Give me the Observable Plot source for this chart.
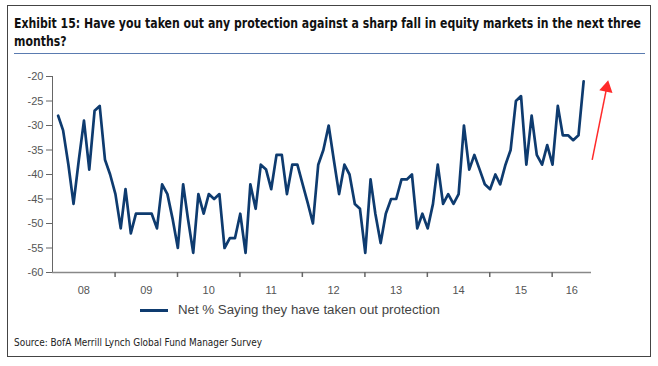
<!DOCTYPE html>
<html>
<head>
<meta charset="utf-8">
<script src="https://cdn.jsdelivr.net/npm/d3@7"></script>
<script src="https://cdn.jsdelivr.net/npm/@observablehq/plot@0.6"></script>
<style>
  html, body { margin: 0; padding: 0; background: #fff; }
  #page { position: relative; width: 658px; height: 366px; overflow: hidden; background: #fff; }
  #frame { position: absolute; left: 7px; top: 5px; width: 644px; height: 352px; border: 1px solid #444; box-sizing: border-box; }
  .fit { position: absolute; white-space: nowrap; transform-origin: 0 0; display: inline-block; }
  .title { font-family: "DejaVu Sans Condensed", "DejaVu Sans", sans-serif; font-weight: bold; font-size: 14px; line-height: 16px; color: #111; }
  #rule { position: absolute; left: 14px; top: 53px; width: 631px; height: 1px; background: #5a7bb0; }
  #chart { position: absolute; left: 0; top: 0; }
  #sw { position: absolute; left: 140px; top: 309px; width: 28px; height: 3px; background: #0e3b6f; }
  #legtext { font-family: "Liberation Sans", Arial, sans-serif; font-size: 12.5px; line-height: 14px; color: #444; }
  #source { font-family: "DejaVu Sans Condensed", "DejaVu Sans", sans-serif; font-size: 10.5px; line-height: 12px; color: #222; }
</style>
</head>
<body>
<div id="page">
  <div id="frame"></div>
  <span id="t1" class="fit title" style="left:14px; top:15px;">Exhibit 15: Have you taken out any protection against a sharp fall in equity markets in the next three</span>
  <span id="t2" class="fit title" style="left:14px; top:33px;">months?</span>
  <div id="rule"></div>
  <div id="chart"></div>
  <div id="sw"></div>
  <span id="legtext" class="fit" style="left:178px; top:303px;">Net % Saying they have taken out protection</span>
  <span id="source" class="fit" style="left:14px; top:336px;">Source: BofA Merrill Lynch Global Fund Manager Survey</span>
</div>
<script>
// Monthly survey, Feb 2008 .. Jul 2016
const startYear = 2008;
const startMonth = 1; // February (0-based)
const netProtection = [
  -28, -31, -38, -46, -37, -29, -39, -27, -26, -37, -40,        // 2008 Feb-Dec
  -44, -51, -43, -52, -48, -48, -48, -48, -51, -42, -44, -49,   // 2009
  -55, -42, -49, -56, -44, -48, -44, -45, -44, -55, -53, -53,   // 2010
  -48, -56, -42, -47, -38, -39, -43, -36, -36, -44, -38, -38,   // 2011
  -42, -46, -50, -38, -35, -30, -37, -44, -38, -40, -46, -47,   // 2012
  -56, -41, -48, -54, -48, -45, -45, -41, -41, -40, -51, -48,   // 2013
  -51, -46, -38, -46, -44, -46, -44, -30, -39, -36, -39, -42,   // 2014
  -43, -40, -42, -38, -35, -25, -24, -38, -28, -36, -38, -34,   // 2015
  -38, -26, -32, -32, -33, -32, -21                             // 2016 Jan-Jul
];
const yTicks = [-20, -25, -30, -35, -40, -45, -50, -55, -60];
const yearTickYears = [2009, 2010, 2011, 2012, 2013, 2014, 2015, 2016];
const yearLabels = ["08", "09", "10", "11", "12", "13", "14", "15", "16"];
// red annotation arrow (tail -> tip), in chart units
const arrowDates = ["2016-08-22", "2016-11-21"];
const arrowValues = [-37, -21.2];

const data = netProtection.map((v, i) => ({
  date: new Date(Date.UTC(startYear, startMonth + i, 3)),
  value: v
}));

const xDomain = [new Date(Date.UTC(2008, 0, 1)), new Date(Date.UTC(2016, 7, 18))];
const yearTicks = yearTickYears.map(y => new Date(Date.UTC(y, 0, 1)));
const bounds = [xDomain[0], ...yearTicks, xDomain[1]];
const labelData = yearLabels.map((t, i) => ({
  date: new Date((+bounds[i] + +bounds[i + 1]) / 2),
  label: t
}));

const a0 = {x: new Date(arrowDates[0]), y: arrowValues[0]};
const a1 = {x: new Date(arrowDates[1]), y: arrowValues[1]};
const lerp = (t) => ({x: new Date(+a0.x + (+a1.x - +a0.x) * t), y: a0.y + (a1.y - a0.y) * t});
const shaftEnd = lerp(0.9);
const headCenter = lerp(0.93);

const chart = Plot.plot({
  width: 658,
  height: 366,
  marginTop: 76,
  marginBottom: 94,
  marginLeft: 52,
  marginRight: 67,
  style: {background: "transparent", fontFamily: "'Liberation Sans', Arial, sans-serif"},
  x: {type: "utc", domain: xDomain, axis: null},
  y: {type: "linear", domain: [-60, -20], axis: null},
  marks: [
    Plot.axisY({ticks: yTicks, tickFormat: d => String(d), tickSize: 6, tickPadding: 3, fontSize: 11, color: "#555", stroke: "#666", label: null}),
    Plot.ruleX([xDomain[0]], {y1: -60, y2: -20, stroke: "#666"}),
    Plot.ruleY([-60], {x1: xDomain[0], x2: xDomain[1], stroke: "#888", strokeWidth: 1.5}),
    Plot.axisX({ticks: yearTicks, tickFormat: () => "", tickSize: 5, stroke: "#666", strokeWidth: 1.5, label: null}),
    Plot.text(labelData, {x: "date", y: -60, text: "label", dy: 18, fontSize: 11, fill: "#555"}),
    Plot.line(data, {x: "date", y: "value", stroke: "#0e3b6f", strokeWidth: 2.7, strokeLinejoin: "round"}),
    Plot.link([0], {x1: a0.x, y1: a0.y, x2: shaftEnd.x, y2: shaftEnd.y, stroke: "#ff2a2a", strokeWidth: 1.5}),
    Plot.dot([headCenter], {x: "x", y: "y", symbol: "triangle", r: 5, fill: "#ff2a2a", stroke: "none",
      rotate: Math.atan2(15.6, 77.6) * 180 / Math.PI})
  ]
});
document.getElementById("chart").appendChild(chart);

// squeeze condensed texts to the widths seen in the reference
function fit(id, w) {
  const el = document.getElementById(id);
  const cur = el.getBoundingClientRect().width;
  if (cur > 0) el.style.transform = `scaleX(${w / cur})`;
}
fit("t1", 627);
fit("source", 248);
fit("legtext", 262);
const s1 = document.getElementById("t1").style.transform;
document.getElementById("t2").style.transform = s1;
</script>
</body>
</html>
